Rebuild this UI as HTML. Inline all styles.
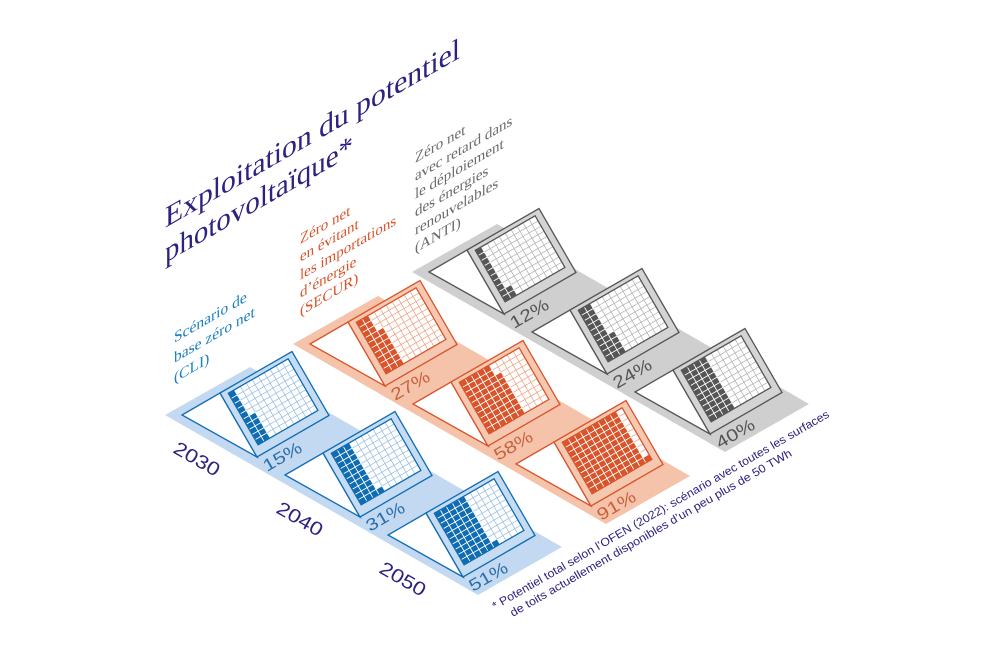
<!DOCTYPE html>
<html><head><meta charset="utf-8"><style>
html,body{margin:0;padding:0;background:#fff;}
svg{display:block;}
.ser{font-family:"Liberation Serif",serif;}
.san{font-family:"Liberation Sans",sans-serif;}
</style></head><body>
<svg id="s" width="985" height="657" viewBox="0 0 985 657" xmlns="http://www.w3.org/2000/svg">
<g id="shapes"></g>
<g transform="translate(165,228) skewY(-30)" class="ser" fill="#2b2380" font-size="30">
<text x="0" y="0" textLength="295" lengthAdjust="spacingAndGlyphs">Exploitation du potentiel</text>
<text x="0" y="35" textLength="188" lengthAdjust="spacingAndGlyphs">photovoltaïque*</text>
</g>
<g transform="translate(415,163) skewY(-30)" class="ser" fill="#6b6b6b" font-size="15">
<text x="0" y="0">Zéro net</text>
<text x="0" y="18">avec retard dans</text>
<text x="0" y="36">le déploiement</text>
<text x="0" y="54">des énergies</text>
<text x="0" y="72">renouvelables</text>
<text x="0" y="90">(ANTI)</text>
</g>
<g transform="translate(300,244) skewY(-30)" class="ser" fill="#d9542a" font-size="15">
<text x="0" y="0">Zéro net</text>
<text x="0" y="18">en évitant</text>
<text x="0" y="36">les importations</text>
<text x="0" y="54">d’énergie</text>
<text x="0" y="72">(SECUR)</text>
</g>
<g transform="translate(174,343) skewY(-30)" class="ser" fill="#1a7fc0" font-size="15.5">
<text x="0" y="0">Scénario de</text>
<text x="0" y="20">base zéro net</text>
<text x="0" y="40">(CLI)</text>
</g>
<g class="san" fill="#2b2380" font-size="19">
<text transform="translate(172,452) rotate(30)" textLength="50" lengthAdjust="spacingAndGlyphs">2030</text>
<text transform="translate(275,512) rotate(30)" textLength="50" lengthAdjust="spacingAndGlyphs">2040</text>
<text transform="translate(378,572) rotate(30)" textLength="50" lengthAdjust="spacingAndGlyphs">2050</text>
</g>
<g class="san" font-size="17">
<g fill="#2a6fad">
<text transform="translate(267,472) rotate(-30)" textLength="42" lengthAdjust="spacingAndGlyphs">15%</text>
<text transform="translate(370,532) rotate(-30)" textLength="42" lengthAdjust="spacingAndGlyphs">31%</text>
<text transform="translate(473,592) rotate(-30)" textLength="42" lengthAdjust="spacingAndGlyphs">51%</text>
</g>
<g fill="#c8623f">
<text transform="translate(395,401) rotate(-30)" textLength="42" lengthAdjust="spacingAndGlyphs">27%</text>
<text transform="translate(498,461) rotate(-30)" textLength="42" lengthAdjust="spacingAndGlyphs">58%</text>
<text transform="translate(601,521) rotate(-30)" textLength="42" lengthAdjust="spacingAndGlyphs">91%</text>
</g>
<g fill="#555">
<text transform="translate(514,329) rotate(-30)" textLength="42" lengthAdjust="spacingAndGlyphs">12%</text>
<text transform="translate(617,389) rotate(-30)" textLength="42" lengthAdjust="spacingAndGlyphs">24%</text>
<text transform="translate(720,449) rotate(-30)" textLength="42" lengthAdjust="spacingAndGlyphs">40%</text>
</g>
</g>
<g transform="translate(495,610) rotate(-30)" class="san" fill="#2b2380" font-size="11.5">
<text x="0" y="0" textLength="387" lengthAdjust="spacingAndGlyphs">* Potentiel total selon l’OFEN (2022): scénario avec toutes les surfaces</text>
<text x="12" y="15" textLength="323" lengthAdjust="spacingAndGlyphs">de toits actuellement disponibles d’un peu plus de 50 TWh</text>
</g>
</svg>
<script>
(function(){
var NS="http://www.w3.org/2000/svg";
var g=document.getElementById("shapes");
function poly(pts,fill,stroke,sw){
  var p=document.createElementNS(NS,"polygon");
  p.setAttribute("points",pts.map(function(q){return q[0].toFixed(2)+","+q[1].toFixed(2);}).join(" "));
  p.setAttribute("fill",fill);
  if(stroke){p.setAttribute("stroke",stroke);p.setAttribute("stroke-width",sw);p.setAttribute("stroke-linejoin","miter");}
  else p.setAttribute("stroke","none");
  g.appendChild(p);
}
var u=[72,-41.5],v=[37,64];
function pt(P,s,t){return [P[0]+s*u[0]+t*v[0],P[1]+s*u[1]+t*v[1]];}
var sc=[
 {P:[467,250],band:"#cfcfcf",frame:"#d4d4d4",dark:"#555555",light:"#b5b5b5",vals:[12,24,40]},
 {P:[348,322],band:"#f4c3a9",frame:"#f5c9b1",dark:"#d9542a",light:"#eea789",vals:[27,58,91]},
 {P:[220,393],band:"#c3d9f1",frame:"#c6dcf3",dark:"#0f6cb3",light:"#9cc0e4",vals:[15,31,51]}
];
var step=[103,60];
sc.forEach(function(S){
  var P=S.P;
  poly([[P[0]-55,P[1]+22],[P[0]+30,P[1]-26],[P[0]+342,P[1]+154],[P[0]+258,P[1]+202]],S.band);
  S.vals.forEach(function(val,i){
    var Q=[P[0]+step[0]*i,P[1]+step[1]*i];
    poly([[Q[0]-38,Q[1]+22],Q,pt(Q,0,1)],"#fff",S.dark,1.3);
    poly([pt(Q,0,0),pt(Q,1,0),pt(Q,1,1),pt(Q,0,1)],S.frame,S.dark,1.3);
    var s0=0.085,s1=0.915,t0=0.06,t1=0.865;
    poly([pt(Q,s0,t0),pt(Q,s1,t0),pt(Q,s1,t1),pt(Q,s0,t1)],"#fff",S.dark,1.2);
    var ds=(s1-s0)/10,dt=(t1-t0)/10;
    var filled=[];
    for(var c=0;c<10;c++){for(var r=0;r<10;r++){
      var idx=c*10+(9-r);
      var cell=[pt(Q,s0+c*ds,t0+r*dt),pt(Q,s0+(c+1)*ds,t0+r*dt),pt(Q,s0+(c+1)*ds,t0+(r+1)*dt),pt(Q,s0+c*ds,t0+(r+1)*dt)];
      if(idx<val) filled.push(cell); else poly(cell,"#fff",S.light,0.7);
    }}
    filled.forEach(function(cell){poly(cell,S.dark,"#fff",0.8);});
    poly([pt(Q,s0,t0),pt(Q,s1,t0),pt(Q,s1,t1),pt(Q,s0,t1)],"none",S.dark,1.2);
  });
});
})();
</script>
</body></html>
